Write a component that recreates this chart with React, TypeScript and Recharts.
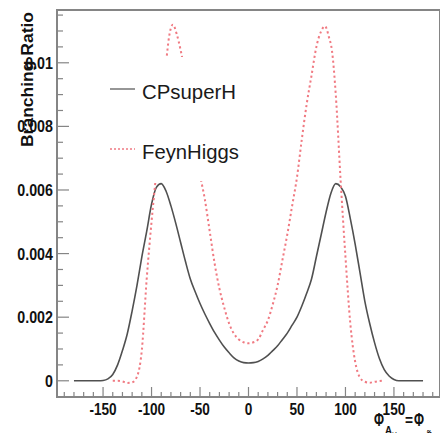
import React from "react";
import {
  Legend,
  Line,
  LineChart,
  ReferenceArea,
  XAxis,
  YAxis,
} from "recharts";

// phase scan, CPsuperH curve
const cpPhi: number[] = [
  -180, -175, -170, -165, -160, -155, -150, -145, -140, -135, -130, -125,
  -120, -115, -110, -105, -100, -95, -90, -85, -80, -75, -70, -65, -60, -55,
  -50, -45, -40, -35, -30, -25, -20, -15, -10, -5, 0, 5, 10, 15, 20, 25, 30,
  35, 40, 45, 50, 55, 60, 65, 70, 75, 80, 85, 90, 95, 100, 105, 110, 115,
  120, 125, 130, 135, 140, 145, 150, 155, 160, 165, 170, 175, 180,
];
const cpBr: number[] = [
  0, 0, 0, 0, 0, 0, 0.00001, 0.00006, 0.0002, 0.0005, 0.00095, 0.00148,
  0.0022, 0.003, 0.0039, 0.0047, 0.00555, 0.00608, 0.0062, 0.00596, 0.0055,
  0.00495, 0.00435, 0.00375, 0.0032, 0.0028, 0.00243, 0.0021, 0.0018,
  0.00152, 0.00128, 0.00106, 0.00088, 0.00072, 0.00062, 0.00057, 0.00056,
  0.00057, 0.00061, 0.00069, 0.0008, 0.00095, 0.0011, 0.0013, 0.0015,
  0.00175, 0.002, 0.00235, 0.00275, 0.0032, 0.0039, 0.0046, 0.0053, 0.0059,
  0.0062, 0.0061, 0.0058, 0.0051, 0.0043, 0.0034, 0.0025, 0.0018, 0.0012,
  0.0007, 0.00035, 0.00015, 0.00004, 0, 0, 0, 0, 0, 0,
];

// phase scan, FeynHiggs curve
const fhPhi: number[] = [
  -140, -135, -130, -125, -120, -115, -110, -105, -100, -95, -90, -85, -82,
  -78, -74, -70, -65, -60, -55, -50, -45, -40, -35, -30, -25, -20, -15, -10,
  -5, 0, 5, 10, 15, 20, 25, 30, 35, 40, 45, 50, 55, 60, 65, 70, 75, 79, 83,
  86, 90, 95, 100, 105, 110, 115, 120, 125, 130, 138,
];
const fhBr: number[] = [
  0, 0, -0.00002, -0.00007, -0.00005, 0.00013, 0.00097, 0.0032, 0.005,
  0.0066, 0.0084, 0.01, 0.0108, 0.0112, 0.0109, 0.0104, 0.0096, 0.0087,
  0.0076, 0.0065, 0.0057, 0.0047, 0.0037, 0.0029, 0.0023, 0.0018, 0.00148,
  0.0013, 0.00121, 0.00118, 0.00121, 0.0013, 0.0016, 0.0019, 0.0024, 0.003,
  0.0038, 0.0046, 0.0055, 0.0064, 0.0076, 0.0087, 0.0096, 0.0105, 0.011,
  0.01115, 0.0108, 0.0104, 0.009, 0.0063, 0.0039, 0.0018, 0.0006, 0.0001,
  -0.00003, -0.00006, -0.00003, 0,
];

const xTicks: number[] = [
  -190, -180, -170, -160, -150, -140, -130, -120, -110, -100, -90, -80, -70,
  -60, -50, -40, -30, -20, -10, 0, 10, 20, 30, 40, 50, 60, 70, 80, 90, 100,
  110, 120, 130, 140, 150, 160, 170, 180, 190,
];
const xLabels: number[] = [-150, -100, -50, 0, 50, 100, 150];

const yTicks: number[] = [
  0, 0.0005, 0.001, 0.0015, 0.002, 0.0025, 0.003, 0.0035, 0.004, 0.0045,
  0.005, 0.0055, 0.006, 0.0065, 0.007, 0.0075, 0.008, 0.0085, 0.009, 0.0095,
  0.01, 0.0105, 0.011, 0.0115,
];
const yLabels: number[] = [0, 0.002, 0.004, 0.006, 0.008, 0.01];
const yLabelText: string[] = ["0", "0.002", "0.004", "0.006", "0.008", "0.01"];

const series = [
  { key: "cp", name: "CPsuperH", color: "#505050", dash: undefined, width: 1.6 },
  { key: "fh", name: "FeynHiggs", color: "#f07a82", dash: "2.2 2.8", width: 2 },
];

const cpData = cpPhi.map((phi, i) => ({ phi, br: cpBr[i] }));
const fhData = fhPhi.map((phi, i) => ({ phi, br: fhBr[i] }));

const X_DOMAIN: [number, number] = [-197.5, 197.5];
const Y_DOMAIN: [number, number] = [-0.00051, 0.01166];

const labelFont = "'Liberation Sans', Arial, sans-serif";
const axisColor = "#858585";

// ticks point into the frame; labels only on the major ones
function XTick(props: any) {
  const { x, y, payload } = props;
  const v = payload.value as number;
  const major = xLabels.includes(v);
  return (
    <g>
      <line x1={x} x2={x} y1={y} y2={y - (major ? 10 : 5)} stroke={axisColor} strokeWidth={1.2} />
      {major && (
        <text
          transform={`translate(${x} ${y + 18}) scale(0.8 1)`}
          textAnchor="middle"
          fontFamily={labelFont}
          fontWeight="bold"
          fontSize={17}
          fill="#111"
        >
          {v}
        </text>
      )}
    </g>
  );
}

function YTick(props: any) {
  const { x, y, payload } = props;
  const v = payload.value as number;
  const idx = yLabels.findIndex((m) => Math.abs(m - v) < 1e-9);
  const major = idx >= 0;
  return (
    <g>
      <line x1={x} x2={x + (major ? 12 : 6)} y1={y} y2={y} stroke={axisColor} strokeWidth={1.2} />
      {major && (
        <text
          transform={`translate(${x - 4} ${y + 6}) scale(0.84 1)`}
          textAnchor="end"
          fontFamily={labelFont}
          fontWeight="bold"
          fontSize={17}
          fill="#111"
        >
          {yLabelText[idx]}
        </text>
      )}
    </g>
  );
}

function LegendBox() {
  const rows = [32, 92];
  return (
    <svg width={162} height={124} style={{ display: "block", background: "#fff" }}>
      {series.map((s, i) => (
        <g key={s.key}>
          <line
            x1={10}
            x2={35}
            y1={rows[i]}
            y2={rows[i]}
            stroke={s.color}
            strokeWidth={s.dash ? 1.4 : 1.2}
            strokeDasharray={s.dash ? "2 2" : undefined}
          />
          <text
            x={42}
            y={rows[i] + 10}
            fontFamily={labelFont}
            fontSize={21}
            fill="#1a1a1a"
            textLength={i === 0 ? 94 : 97}
            lengthAdjust="spacingAndGlyphs"
          >
            {s.name}
          </text>
        </g>
      ))}
    </svg>
  );
}

export default function App() {
  return (
    <div style={{ position: "relative", width: 448, height: 441, margin: -8, background: "#fff" }}>
      <LineChart
        width={448}
        height={441}
        margin={{ top: 10, right: 8, bottom: 14, left: 7 }}
      >
        <XAxis
          dataKey="phi"
          type="number"
          domain={X_DOMAIN}
          allowDataOverflow
          ticks={xTicks}
          interval={0}
          height={30}
          tickSize={0}
          tickMargin={0}
          axisLine={false}
          tickLine={false}
          tick={(p: any) => <XTick {...p} />}
        />
        <YAxis
          type="number"
          domain={Y_DOMAIN}
          allowDataOverflow
          ticks={yTicks}
          interval={0}
          width={50}
          tickSize={0}
          tickMargin={0}
          axisLine={false}
          tickLine={false}
          tick={(p: any) => <YTick {...p} />}
        />
        <ReferenceArea
          x1={X_DOMAIN[0]}
          x2={X_DOMAIN[1]}
          y1={Y_DOMAIN[0]}
          y2={Y_DOMAIN[1]}
          fill="none"
          stroke={axisColor}
          strokeWidth={2}
          ifOverflow="visible"
        />
        <Line
          data={cpData}
          dataKey="br"
          name={series[0].name}
          type="monotone"
          stroke={series[0].color}
          strokeWidth={series[0].width}
          dot={false}
          isAnimationActive={false}
        />
        <Line
          data={fhData}
          dataKey="br"
          name={series[1].name}
          type="monotone"
          stroke={series[1].color}
          strokeWidth={series[1].width}
          strokeDasharray={series[1].dash}
          dot={false}
          isAnimationActive={false}
        />
        <Legend
          layout="vertical"
          align="center"
          verticalAlign="middle"
          wrapperStyle={{ left: 100, top: 57, width: 162, height: 124, background: "#fff" }}
          content={() => <LegendBox />}
        />
      </LineChart>

      {/* axis titles */}
      <svg
        width={448}
        height={441}
        style={{ position: "absolute", left: 0, top: 0, pointerEvents: "none" }}
      >
        <text
          transform="translate(33 12) rotate(-90)"
          textAnchor="end"
          fontFamily={labelFont}
          fontWeight="bold"
          fontSize={17}
          fill="#111"
          textLength={135}
          lengthAdjust="spacingAndGlyphs"
        >
          Branching Ratio
        </text>
        <g fontFamily={labelFont} fontWeight="bold" fill="#111">
          <text x={374} y={426} fontSize={19} textLength={10} lengthAdjust="spacingAndGlyphs">Φ</text>
          <text x={385} y={434} fontSize={11} textLength={7} lengthAdjust="spacingAndGlyphs">A</text>
          <text x={392} y={437} fontSize={7} textLength={11} lengthAdjust="spacingAndGlyphs">t,b,c</text>
          <text x={405} y={426} fontSize={16} textLength={8} lengthAdjust="spacingAndGlyphs">=</text>
          <text x={414} y={426} fontSize={19} textLength={10} lengthAdjust="spacingAndGlyphs">Φ</text>
          <text x={426} y={438} fontSize={11} textLength={6} lengthAdjust="spacingAndGlyphs">g̃</text>
        </g>
      </svg>
    </div>
  );
}
